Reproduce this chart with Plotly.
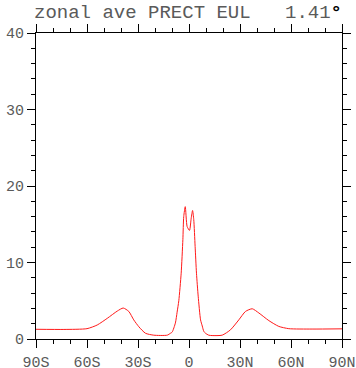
import plotly.graph_objects as go

lat = [-90, -73.6, -60, -54, -48.1, -42.2, -38.7, -35.4, -32.5, -29.5, -25.6, -20.7, -12.8,
       -10.9, -9.9, -8, -7, -6, -4.6, -3.6, -3.1, -2.2, -1.1, 0.3, 1.3, 2.1, 2.8, 3.6, 4.4,
       5.4, 6.8, 7.8, 8.7, 9.7, 11.6, 13.6, 19.5, 24.4, 29.3, 33.2, 37.2, 41.1, 47, 52.8,
       58.7, 72.4, 90]
prect = [1.27, 1.25, 1.35, 1.83, 2.7, 3.65, 4.05, 3.6, 2.5, 1.6, 0.75, 0.5, 0.5,
         0.75, 0.9, 2.1, 3.5, 5.0, 8.6, 13.0, 16.0, 17.3, 14.7, 14.2, 15.8, 16.8, 15.6, 12.1, 8.6,
         5.6, 2.5, 1.7, 1.0, 0.75, 0.5, 0.45, 0.5, 1.2, 2.5, 3.6, 3.95, 3.4, 2.4, 1.65,
         1.35, 1.3, 1.33]

xtickvals = [-90, -60, -30, 0, 30, 60, 90]
xticktext = ["90S", "60S", "30S", "0", "30N", "60N", "90N"]
ytickvals = [0, 10, 20, 30, 40]

title_left = "zonal ave PRECT EUL"
title_right = "1.41<span style='color:black'><b>°</b></span>"

font_fam = "Liberation Mono"
grey = "#5a5a5a"

fig = go.Figure()
fig.add_trace(go.Scatter(x=lat, y=prect, mode="lines",
                         line=dict(color="#ff1a1a", width=1, shape="spline", smoothing=0.6),
                         hoverinfo="skip"))

axis_common = dict(showline=True, linecolor="black", linewidth=1, mirror="ticks",
                   ticks="outside", ticklen=8, tickcolor="black", tickwidth=1,
                   showgrid=False, zeroline=False, automargin=False,
                   tickfont=dict(family=font_fam, size=15, color=grey))

fig.update_xaxes(range=[-90, 90], tickvals=xtickvals, ticktext=xticktext,
                 ticklabelstandoff=1,
                 minor=dict(dtick=10, tick0=0, ticks="outside", ticklen=4,
                            tickcolor="black", showgrid=False),
                 **axis_common)
fig.update_yaxes(range=[0, 40], tickvals=ytickvals,
                 minor=dict(dtick=2, tick0=0, ticks="outside", ticklen=4,
                            tickcolor="black", showgrid=False),
                 **axis_common)

fig.add_annotation(text=title_left, xref="paper", yref="paper", x=0, y=1,
                   xanchor="left", yanchor="bottom", yshift=7, xshift=-4, showarrow=False,
                   font=dict(family=font_fam, size=19, color=grey))
fig.add_annotation(text=title_right, xref="paper", yref="paper", x=1, y=1,
                   xanchor="right", yanchor="bottom", yshift=7, xshift=2, showarrow=False,
                   font=dict(family=font_fam, size=19, color=grey))

fig.update_layout(width=356, height=368, margin=dict(l=35.5, r=14.3, t=33.3, b=28.7),
                  plot_bgcolor="white", paper_bgcolor="white", showlegend=False)

fig.write_html("out.html", config={"displayModeBar": False},
               post_script="document.body.style.margin='0px';")
